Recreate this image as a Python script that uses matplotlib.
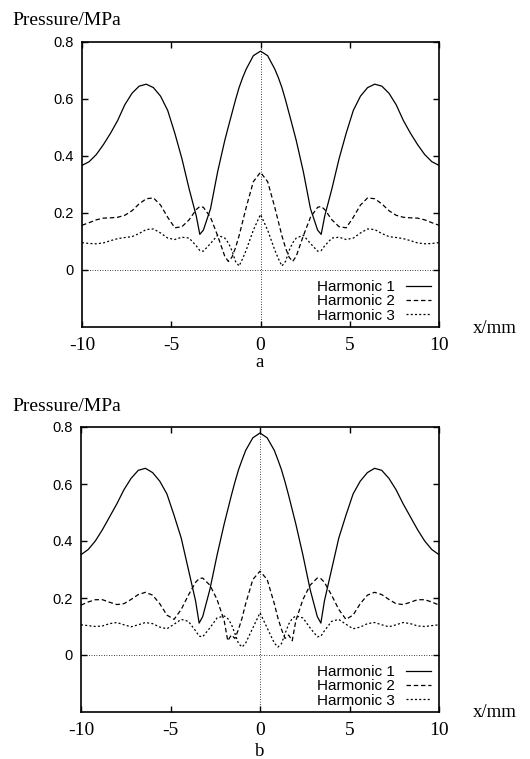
import matplotlib
matplotlib.use("Agg")
import matplotlib.pyplot as plt

# lateral position (mm), shared by every curve
x = [-10.0, -9.6, -9.2, -8.8, -8.4, -8.0, -7.6, -7.2, -6.8, -6.4, -6.0, -5.6, -5.2, -4.8, -4.4,
     -4.0, -3.6, -3.4, -3.2, -2.8, -2.4, -2.0, -1.8, -1.6, -1.4, -1.2, -1.0, -0.8, -0.4,
     0.0,
     0.4, 0.8, 1.0, 1.2, 1.4, 1.6, 1.8, 2.0, 2.4, 2.8, 3.2, 3.4, 3.6, 4.0,
     4.4, 4.8, 5.2, 5.6, 6.0, 6.4, 6.8, 7.2, 7.6, 8.0, 8.4, 8.8, 9.2, 9.6, 10.0]

# panel a
h1_a = [0.367, 0.38, 0.405, 0.44, 0.48, 0.525, 0.58, 0.62, 0.645, 0.652, 0.64, 0.61, 0.56, 0.48, 0.39,
        0.285, 0.19, 0.125, 0.14, 0.215, 0.345, 0.455, 0.503, 0.55, 0.597, 0.64, 0.675, 0.705, 0.752,
        0.768,
        0.752, 0.705, 0.675, 0.64, 0.597, 0.55, 0.503, 0.455, 0.345, 0.215, 0.14, 0.125, 0.19, 0.285,
        0.39, 0.48, 0.56, 0.61, 0.64, 0.652, 0.645, 0.62, 0.58, 0.525, 0.48, 0.44, 0.405, 0.38, 0.367]
h2_a = [0.157, 0.166, 0.176, 0.182, 0.183, 0.185, 0.192, 0.208, 0.232, 0.25, 0.253, 0.228, 0.185, 0.148, 0.152,
        0.176, 0.212, 0.223, 0.22, 0.185, 0.12, 0.048, 0.03, 0.045, 0.078, 0.12, 0.17, 0.22, 0.31,
        0.343,
        0.31, 0.22, 0.17, 0.12, 0.078, 0.045, 0.03, 0.048, 0.12, 0.185, 0.22, 0.223, 0.212, 0.176,
        0.152, 0.148, 0.185, 0.228, 0.253, 0.25, 0.232, 0.208, 0.192, 0.185, 0.183, 0.182, 0.176, 0.166, 0.157]
h3_a = [0.096, 0.093, 0.092, 0.095, 0.103, 0.11, 0.114, 0.117, 0.128, 0.142, 0.144, 0.13, 0.112, 0.107, 0.115,
        0.112, 0.085, 0.068, 0.066, 0.093, 0.122, 0.112, 0.095, 0.068, 0.03, 0.014, 0.04, 0.07, 0.14,
        0.195,
        0.14, 0.07, 0.04, 0.014, 0.03, 0.068, 0.095, 0.112, 0.122, 0.093, 0.066, 0.068, 0.085, 0.112,
        0.115, 0.107, 0.112, 0.13, 0.144, 0.142, 0.128, 0.117, 0.114, 0.11, 0.103, 0.095, 0.092, 0.093, 0.096]

# panel b
h1_b = [0.352, 0.37, 0.40, 0.44, 0.485, 0.53, 0.58, 0.62, 0.648, 0.655, 0.64, 0.61, 0.565, 0.49, 0.41,
        0.30, 0.19, 0.112, 0.135, 0.23, 0.35, 0.46, 0.51, 0.56, 0.607, 0.65, 0.685, 0.718, 0.762,
        0.779,
        0.762, 0.718, 0.685, 0.65, 0.607, 0.56, 0.51, 0.46, 0.35, 0.23, 0.135, 0.112, 0.19, 0.30,
        0.41, 0.49, 0.565, 0.61, 0.64, 0.655, 0.648, 0.62, 0.58, 0.53, 0.485, 0.44, 0.40, 0.37, 0.352]
h2_b = [0.175, 0.186, 0.194, 0.194, 0.185, 0.177, 0.18, 0.195, 0.212, 0.22, 0.21, 0.18, 0.14, 0.125, 0.16,
        0.21, 0.255, 0.268, 0.27, 0.245, 0.195, 0.12, 0.05, 0.07, 0.058, 0.09, 0.13, 0.18, 0.265,
        0.294,
        0.265, 0.18, 0.13, 0.09, 0.058, 0.07, 0.05, 0.12, 0.195, 0.245, 0.27, 0.268, 0.255, 0.21,
        0.16, 0.125, 0.14, 0.18, 0.21, 0.22, 0.212, 0.195, 0.18, 0.177, 0.185, 0.194, 0.194, 0.186, 0.175]
h3_b = [0.106, 0.103, 0.10, 0.102, 0.11, 0.114, 0.106, 0.099, 0.106, 0.114, 0.11, 0.098, 0.092, 0.108, 0.125,
        0.118, 0.085, 0.066, 0.064, 0.095, 0.13, 0.137, 0.128, 0.108, 0.075, 0.04, 0.028, 0.042, 0.095,
        0.148,
        0.095, 0.042, 0.028, 0.04, 0.075, 0.108, 0.128, 0.137, 0.13, 0.095, 0.064, 0.066, 0.085, 0.118,
        0.125, 0.108, 0.092, 0.098, 0.11, 0.114, 0.106, 0.099, 0.106, 0.114, 0.11, 0.102, 0.10, 0.103, 0.106]

labels = ["Harmonic 1", "Harmonic 2", "Harmonic 3"]
xticks = [-10, -5, 0, 5, 10]
yticks = [0, 0.2, 0.4, 0.6, 0.8]
ytick_labels = ["0", "0.2", "0.4", "0.6", "0.8"]

SERIF = "Liberation Serif"
SANS = "Liberation Sans"
W, H = 530, 759

fig = plt.figure(figsize=(W / 100, H / 100), dpi=100)


def panel(rect, ys, letter, ylab_base, xlab_base, letter_base):
    ax = fig.add_axes(rect)
    styles = ["-", (0, (3.6, 2.2)), (0, (1.6, 1.8))]
    for y, lab, st in zip(ys, labels, styles):
        ax.plot(x, y, color="k", lw=0.9, ls=st, label=lab)
    ax.axhline(0, color="k", lw=0.6, ls=(0, (1, 2)))
    ax.axvline(0, color="k", lw=0.6, ls=(0, (1, 2)))
    ax.set_xlim(-10, 10)
    ax.set_ylim(-0.2, 0.8)
    ax.set_xticks(xticks)
    ax.set_xticklabels([str(t) for t in xticks], family=SERIF, fontsize=14)
    ax.set_yticks(yticks)
    ax.set_yticklabels(ytick_labels, family=SANS, fontsize=10.5)
    ax.tick_params(direction="in", length=4, width=1, top=True, right=True)
    ax.tick_params(axis="x", pad=7)
    ax.tick_params(axis="y", pad=6)
    for s in ax.spines.values():
        s.set_linewidth(1.2)
    ax.legend(loc="lower right", bbox_to_anchor=(1.012, -0.028), frameon=False,
              markerfirst=False, handlelength=1.65, handletextpad=0.7,
              labelspacing=0.02, borderpad=0.3, prop={"family": SANS, "size": 11})
    fig.text(12 / W, 1 - ylab_base / H, "Pressure/MPa", family=SERIF, fontsize=14,
             va="baseline", ha="left")
    fig.text(473 / W, 1 - xlab_base / H, "x/mm", family=SERIF, fontsize=13.5,
             va="baseline", ha="left")
    fig.text(260 / W, 1 - letter_base / H, letter, family=SERIF, fontsize=13.5,
             va="baseline", ha="center")
    return ax


panel([82 / W, 1 - 327 / H, 357 / W, 285 / H], [h1_a, h2_a, h3_a], "a", 25, 333, 367)
panel([81 / W, 1 - 712 / H, 358 / W, 285 / H], [h1_b, h2_b, h3_b], "b", 411, 717, 756)

fig.savefig("out.png", dpi=100)
